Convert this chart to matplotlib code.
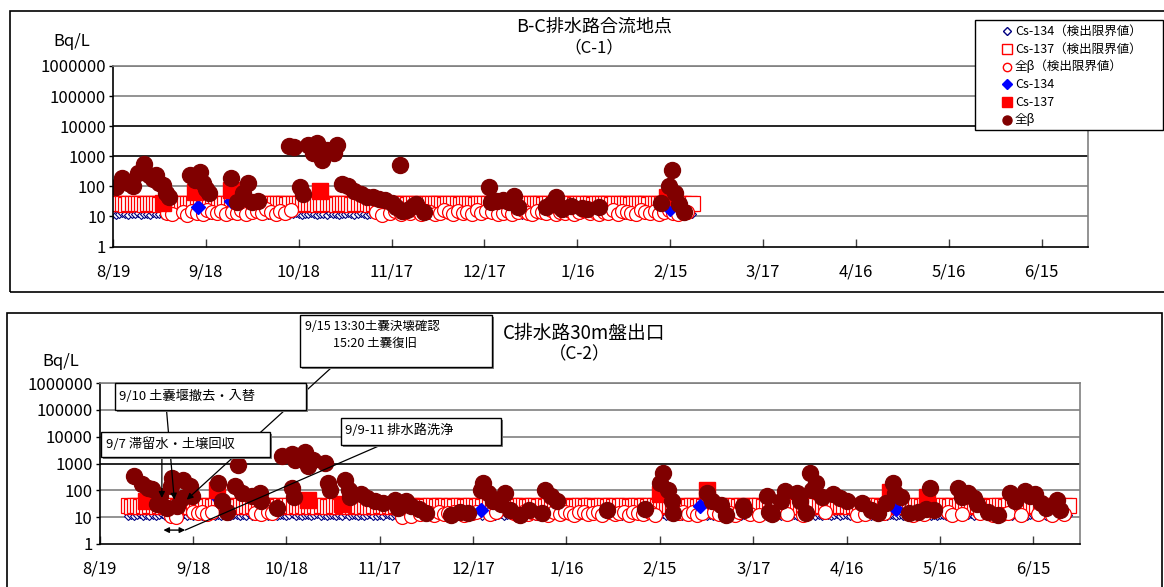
import numpy as np
import matplotlib
matplotlib.use("Agg")
import matplotlib.pyplot as plt
from matplotlib.patches import Rectangle, ConnectionPatch
from matplotlib.lines import Line2D

plt.rcParams['font.family'] = ['Noto Sans CJK JP', 'DejaVu Sans']

# ---------------- data ----------------
# x axis: days since 8/19 (2013)
tick_days = [0, 30, 60, 90, 120, 150, 180, 210, 240, 270, 300]
tick_labels = ['8/19', '9/18', '10/18', '11/17', '12/17', '1/16', '2/15',
               '3/17', '4/16', '5/16', '6/15']
y_ticks = [1, 10, 100, 1000, 10000, 100000, 1000000]
y_labels = ['1', '10', '100', '1000', '10000', '100000', '1000000']

# --- C-1 (B-C排水路合流地点) ---
c1_first_day = 0  # daily Cs detection limits start here
c1_cs137_dl = [
    28, 27, 29, 28, 26, 28, 27, 29, 28, 27, 26, 28, 29, 27, 28, 26, 27, 29, 28, 27,
    27, 28, 26, 29, 28, 27, 28, 26, 27, 29, 28, 28, 27, 26, 29, 27, 28, 27, 26, 28,
    29, 27, 28, 26, 28, 27, 29, 28, 27, 28, 26, 27, 28, 29, 27, 28, 26, 28, 27, 29,
    28, 26, 27, 29, 28, 27, 26, 28, 29, 27, 28, 27, 26, 28, 27, 29, 28, 26, 27, 28,
    27, 29, 28, 26, 27, 28, 29, 27, 28, 26, 28, 27, 29, 28, 27, 26, 28, 29, 27, 28,
    26, 28, 27, 29, 28, 27, 28, 26, 29, 27, 28, 27, 26, 28, 29, 27, 28, 26, 27, 28,
    28, 27, 26, 28, 29, 27, 28, 27, 26, 29, 28, 27, 28, 26, 27, 29, 28, 27, 28, 26,
    27, 28, 29, 27, 26, 28, 27, 28, 29, 26, 27, 28, 27, 29, 28, 26, 28, 27, 29, 27,
    28, 26, 27, 28, 29, 27, 28, 26, 27, 28, 29, 28, 27, 26, 28, 27, 29, 28, 27, 26,
    27, 28, 29, 27, 28, 26, 27, 28]
c1_cs134_dl = [
    12, 11, 12, 13, 12, 11, 12, 12, 13, 11, 12, 12, 11, 13, 12, 12, 11, 12, 13, 12,
    11, 12, 13, 12, 11, 12, 12, 11, 13, 12, 12, 11, 12, 12, 13, 11, 12, 12, 11, 12,
    12, 13, 11, 12, 12, 11, 12, 13, 12, 12, 11, 12, 12, 13, 11, 12, 12, 11, 12, 13,
    12, 11, 12, 12, 13, 12, 11, 12, 12, 11, 13, 12, 12, 11, 12, 12, 13, 12, 11, 12,
    13, 12, 11, 12, 12, 11, 12, 13, 12, 11, 12, 12, 13, 11, 12, 12, 11, 12, 13, 12,
    12, 11, 12, 13, 12, 12, 11, 12, 12, 13, 11, 12, 12, 11, 12, 13, 12, 12, 11, 12,
    11, 12, 12, 13, 12, 11, 12, 12, 11, 13, 12, 12, 11, 12, 12, 13, 12, 11, 12, 12,
    12, 13, 12, 11, 12, 12, 11, 12, 13, 12, 12, 11, 12, 12, 13, 11, 12, 12, 11, 12,
    13, 12, 11, 12, 12, 11, 12, 13, 12, 12, 11, 12, 12, 13, 12, 11, 12, 12, 11, 12,
    12, 11, 12, 13, 12, 11, 12, 12]
c1_beta_dl_days = [
    17.5, 19, 22.5, 24, 25.5, 27, 29, 30.5, 32, 33.5,
    35, 36.5, 38.5, 40, 41.5, 43, 45, 46.5, 48, 49.5,
    51, 52.5, 54, 55.5, 57.5, 85, 87, 89.5, 91, 93,
    94.5, 96, 98, 99.5, 101, 102.5, 104, 105.5, 107, 108.5,
    110, 111.5, 113, 114.5, 116, 117.5, 119, 120.5, 122.5, 124.5,
    126, 127.5, 129, 131, 132.5, 134, 135.5, 137, 138.5, 140,
    141.5, 143, 144.5, 146, 147.5, 149, 150.5, 152, 154, 155.5,
    157, 158.5, 160, 161.5, 163, 164.5, 166, 167.5, 169, 170.5,
    172, 173.5, 175, 176.5, 178, 179.5, 181, 182.5, 184, 185.5]
c1_beta_dl = [
    13, 12, 14, 11, 15, 13, 12, 16, 14, 13,
    15, 12, 14, 13, 16, 12, 14, 15, 13, 17,
    14, 12, 15, 13, 16, 14, 11, 13, 15, 12,
    14, 13, 16, 12, 15, 14, 12, 13, 16, 14,
    12, 15, 13, 14, 12, 16, 13, 15, 14, 12,
    13, 15, 12, 14, 16, 13, 12, 15, 14, 13,
    16, 12, 14, 13, 15, 12, 14, 16, 13, 15,
    12, 14, 13, 16, 12, 15, 14, 13, 12, 16,
    14, 13, 15, 12, 14, 16, 13, 12, 15, 14]
c1_cs134_days = [27.5, 38, 180]
c1_cs134 = [20, 33, 18]
c1_cs137_days = [16, 26.5, 38, 67, 179]
c1_cs137 = [28, 65, 75, 70, 45]
c1_beta_days = [
    1, 3, 5, 6.5, 8, 10, 11.5, 13, 14, 15,
    16, 17, 18, 25, 26.5, 28, 29, 30, 31, 38,
    40, 42, 43.5, 45, 47, 57, 58.5, 60.5, 61.5, 63,
    64.5, 66, 67.5, 69, 71.5, 72.5, 74, 76, 78, 80,
    82, 84, 86, 88, 90, 91.5, 92.6, 93.5, 95, 97,
    98, 100.5, 121.5, 122, 124, 126, 128, 129.7, 131, 140,
    141.5, 143, 144, 145, 148, 151.5, 153, 157, 177, 179.5,
    180.5, 181.5, 183, 184.5]
c1_beta = [
    95, 190, 130, 100, 280, 550, 230, 180, 240, 130,
    110, 60, 45, 230, 160, 290, 130, 80, 60, 190,
    30, 60, 130, 30, 33, 2200, 2000, 95, 55, 2400,
    1300, 2800, 750, 1600, 1300, 2400, 120, 105, 70, 55,
    45, 45, 38, 35, 28, 20, 500, 15, 16, 22,
    26, 14, 95, 30, 32, 35, 30, 48, 20, 20,
    26, 45, 22, 18, 22, 19, 17, 20, 28, 100,
    350, 60, 25, 14]

# --- C-2 (C排水路30m盤出口) ---
c2_first_day = 9
c2_cs137_dl = [
    28, 27, 29, 28, 27, 28, 26, 28, 29, 27, 28, 27, 29, 28, 26, 28, 27, 29, 28, 27,
    27, 28, 26, 29, 28, 27, 28, 27, 29, 28, 26, 28, 27, 28, 29, 27, 28, 26, 28, 27,
    29, 28, 27, 26, 28, 29, 27, 28, 27, 28, 26, 29, 28, 27, 28, 27, 29, 26, 28, 27,
    28, 27, 29, 28, 26, 27, 28, 29, 27, 28, 28, 26, 27, 29, 28, 27, 28, 27, 26, 29,
    27, 28, 28, 26, 29, 27, 28, 27, 28, 29, 26, 28, 27, 28, 29, 27, 26, 28, 28, 27,
    29, 27, 28, 26, 28, 27, 29, 28, 27, 26, 28, 29, 27, 28, 27, 28, 26, 29, 28, 27,
    28, 26, 27, 29, 28, 27, 28, 28, 26, 27, 29, 28, 27, 28, 26, 29, 27, 28, 28, 27,
    27, 29, 28, 26, 27, 28, 29, 27, 28, 28, 27, 26, 29, 28, 27, 28, 27, 29, 26, 28,
    28, 27, 26, 29, 28, 27, 28, 27, 29, 28, 26, 27, 28, 29, 28, 27, 26, 28, 27, 29,
    26, 28, 29, 27, 28, 27, 28, 26, 27, 29, 28, 28, 27, 26, 28, 29, 27, 28, 27, 28,
    29, 27, 28, 28, 26, 27, 29, 28, 27, 28, 26, 28, 29, 27, 28, 27, 26, 29, 28, 27,
    27, 28, 26, 28, 29, 27, 28, 27, 26, 28, 29, 28, 27, 28, 26, 27, 29, 28, 27, 28,
    28, 29, 27, 26, 28, 27, 28, 29, 27, 28, 26, 28, 27, 29, 28, 27, 28, 26, 29, 27,
    27, 28, 28, 29, 26, 28, 27, 28, 27, 29, 28, 26, 27, 28, 29, 27, 28, 27, 26, 28,
    29, 28, 27, 28, 26, 29, 27, 28, 28, 27, 26, 28, 29, 27, 28, 27, 28, 26, 29, 28,
    27, 28, 29]
c2_cs134_dl = [
    11, 12, 11, 12, 13, 11, 12, 11, 12, 11, 12, 13, 11, 12, 11, 12, 12, 11, 13, 11,
    12, 11, 12, 12, 11, 13, 11, 12, 11, 12, 11, 12, 13, 11, 12, 12, 11, 12, 11, 13,
    11, 12, 12, 11, 12, 11, 13, 12, 11, 12, 12, 11, 12, 13, 11, 12, 11, 12, 12, 11,
    12, 13, 11, 12, 11, 12, 12, 11, 12, 11, 13, 11, 12, 12, 11, 12, 11, 12, 13, 11,
    11, 12, 11, 13, 12, 11, 12, 12, 11, 12, 11, 13, 12, 11, 12, 11, 12, 12, 11, 13,
    12, 11, 12, 11, 12, 13, 11, 12, 12, 11, 12, 11, 12, 13, 11, 12, 11, 12, 11, 12,
    13, 11, 12, 12, 11, 12, 11, 13, 11, 12, 12, 11, 12, 11, 12, 13, 11, 12, 11, 12,
    11, 12, 13, 11, 12, 11, 12, 12, 11, 12, 13, 11, 12, 11, 12, 12, 11, 13, 12, 11,
    12, 11, 12, 12, 13, 11, 12, 11, 12, 11, 12, 12, 13, 11, 12, 11, 12, 12, 11, 12,
    11, 13, 12, 11, 12, 12, 11, 12, 11, 13, 12, 11, 12, 11, 12, 12, 13, 11, 12, 11,
    12, 12, 11, 12, 13, 11, 12, 11, 12, 12, 11, 13, 12, 11, 12, 11, 12, 12, 11, 12,
    13, 11, 12, 11, 12, 12, 11, 12, 13, 11, 12, 12, 11, 12, 11, 13, 12, 11, 12, 11,
    12, 11, 13, 12, 11, 12, 12, 11, 12, 11, 13, 12, 11, 12, 12, 11, 12, 13, 11, 12,
    11, 12, 12, 11, 13, 12, 11, 12, 11, 12, 12, 13, 11, 12, 11, 12, 12, 11, 12, 13,
    12, 11, 12, 12, 11, 13, 12, 11, 12, 11, 12, 12, 11, 13, 12, 11, 12, 12, 11, 12,
    11, 12, 12]
c2_beta_dl_days = [
    23, 24.5, 30, 31.5, 33, 34.5, 36, 50, 52, 54,
    55.5, 97, 100, 103, 104.5, 106, 107.5, 109, 110.5, 112,
    114, 117, 119.5, 121, 125.5, 127.5, 133, 134.5, 136, 137.5,
    139, 140.5, 144, 146, 148, 149.5, 151, 152.5, 154, 155.5,
    157, 158.5, 160, 161.5, 164, 165.5, 167, 168.5, 170, 171.5,
    173, 174.5, 177, 178.5, 186, 187.5, 189, 190.5, 192, 193.5,
    197.5, 199, 202.5, 204, 205.5, 209, 212, 217, 221, 226,
    233, 243.5, 246, 252, 261.5, 265, 272.5, 274, 277, 283,
    287, 290, 292, 296, 301.5, 306, 310]
c2_beta_dl = [
    11, 10, 15, 14, 16, 13, 15, 14, 13, 15,
    14, 10, 11, 13, 15, 14, 12, 16, 13, 14,
    15, 12, 14, 16, 13, 15, 14, 12, 16, 13,
    15, 14, 12, 16, 13, 15, 14, 12, 16, 15,
    13, 14, 16, 12, 15, 13, 14, 16, 12, 15,
    14, 13, 15, 12, 14, 16, 13, 15, 12, 14,
    16, 13, 14, 12, 15, 13, 12, 14, 13, 12,
    15, 12, 13, 14, 12, 13, 15, 12, 13, 14,
    12, 13, 14, 12, 13, 12, 13]
c2_cs134_days = [38, 122.7, 193, 256]
c2_cs134 = [50, 18, 25, 20]
c2_cs137_days = [15, 37.6, 67, 78, 180, 195, 253.9, 266]
c2_cs137 = [40, 100, 45, 30, 75, 100, 90, 55]
c2_beta_days = [
    11, 13.5, 15.5, 16.7, 18.3, 19.4, 21.6, 23, 23.2, 24.8,
    26.4, 26.9, 29, 29.6, 38, 39.2, 40.8, 43.5, 44.6, 45.6,
    48.9, 51.5, 51.7, 56.9, 58.5, 61.7, 61.9, 62.5, 62.8, 66,
    67, 68.7, 72.4, 73.5, 74, 78.8, 80, 80.5, 84, 86,
    88.5, 91, 95, 96, 98.6, 100, 102.7, 105, 113, 115.8,
    118.5, 122.4, 123.3, 124.9, 126.4, 129, 130.2, 131.8, 135, 138,
    142, 143, 145, 147, 163, 175.2, 180, 181, 182.7, 184,
    184.3, 195, 196.7, 199.5, 201.4, 206.8, 207, 214.3, 215, 216,
    219, 220.2, 224, 225, 227, 228.2, 229, 230.3, 232, 235.7,
    238, 240, 244.8, 248, 250, 252.8, 255, 255.5, 257.6, 260,
    263, 265.6, 266.7, 268, 275.8, 277, 279, 281, 282, 285.5,
    288.7, 292.4, 294, 297.3, 299, 300.5, 302.6, 304, 307.5, 308.6]
c2_beta = [
    340, 165, 120, 110, 30, 60, 22, 150, 290, 25,
    52, 250, 140, 60, 190, 39, 16, 140, 900, 80,
    60, 80, 40, 22, 1900, 2200, 120, 55, 1300, 2800,
    800, 1400, 1050, 190, 100, 250, 105, 55, 70, 50,
    39, 35, 45, 22, 40, 25, 20, 14, 12.5, 16,
    14, 100, 190, 80, 40, 32, 80, 18, 12, 18,
    14, 100, 60, 40, 18, 21, 190, 450, 105, 40,
    14, 80, 40, 28, 12, 25, 19, 60, 16, 13,
    40, 92, 80, 40, 14, 450, 100, 190, 55, 70,
    50, 40, 34, 19, 14, 35, 190, 80, 55, 14,
    16, 21, 120, 19, 120, 55, 80, 50, 30, 16,
    12, 80, 40, 92, 60, 70, 34, 22, 45, 19]

legend_labels = ['Cs-134（検出限界値）', 'Cs-137（検出限界値）', '全β（検出限界値）',
                 'Cs-134', 'Cs-137', '全β']

# ---------------- figure ----------------
W, H = 1164, 587
fig = plt.figure(figsize=(W / 100, H / 100), dpi=100)


def fx(x):
    return x / W


def fy(y):
    return 1 - y / H


def draw_panel(ax, first_day, cs137_dl, cs134_dl, bdl_days, bdl, c134_days, c134,
               c137_days, c137, b_days, b, black_lines):
    ax.set_yscale('log')
    ax.set_ylim(1, 1e6)
    ax.set_xlim(0, 315)
    for v in y_ticks[1:]:
        col = 'black' if v in black_lines else '#808080'
        ax.axhline(v, color=col, lw=1.2, zorder=0.5)

    dl_days137 = first_day + np.arange(len(cs137_dl))
    dl_days134 = first_day + np.arange(len(cs134_dl))
    ax.plot(dl_days134, cs134_dl, ls='none', marker='D', ms=3.8, mfc='white',
            mec='#000080', mew=0.8, zorder=2)
    ax.plot(dl_days137, cs137_dl, ls='none', marker='s', ms=10.8, mfc='white',
            mec='red', mew=0.9, zorder=2.1)
    ax.plot(bdl_days, bdl, ls='none', marker='o', ms=10, mfc='white',
            mec='red', mew=0.9, zorder=2.2)
    ax.plot(c134_days, c134, ls='none', marker='D', ms=7.5, color='blue', zorder=2.3)
    ax.plot(c137_days, c137, ls='none', marker='s', ms=11.5, color='red', zorder=2.4)
    ax.plot(b_days, b, ls='none', marker='o', ms=11.5, color='#800000', zorder=2.5)

    ax.set_xticks(tick_days)
    ax.set_xticklabels(tick_labels)
    ax.set_yticks(y_ticks)
    ax.set_yticklabels(y_labels)
    ax.yaxis.set_minor_locator(matplotlib.ticker.NullLocator())
    ax.tick_params(axis='x', direction='in', length=6, width=1, pad=12,
                   labelsize=12, color='#404040')
    ax.tick_params(axis='y', direction='out', length=3, width=1, pad=2,
                   labelsize=12)
    ax.spines['left'].set_color('black')
    ax.spines['bottom'].set_color('black')
    ax.spines['top'].set_color('#808080')
    ax.spines['right'].set_color('#808080')
    for s in ax.spines.values():
        s.set_linewidth(1.2)


ax1 = fig.add_axes([fx(113), fy(246.5), (1088 - 113) / W, (246.5 - 66) / H])
draw_panel(ax1, c1_first_day, c1_cs137_dl, c1_cs134_dl, c1_beta_dl_days, c1_beta_dl,
           c1_cs134_days, c1_cs134, c1_cs137_days, c1_cs137, c1_beta_days, c1_beta,
           black_lines=(1000, 10000))

ax2 = fig.add_axes([fx(99.6), fy(544), (1080 - 99.6) / W, (544 - 383) / H])
draw_panel(ax2, c2_first_day, c2_cs137_dl, c2_cs134_dl, c2_beta_dl_days, c2_beta_dl,
           c2_cs134_days, c2_cs134, c2_cs137_days, c2_cs137, c2_beta_days, c2_beta,
           black_lines=(1000,))

# outer frames of the two charts
fig.add_artist(Rectangle((fx(10), fy(292)), fx(1180) - fx(10), fy(11) - fy(292),
                         transform=fig.transFigure, fill=False, ec='black', lw=1.2,
                         zorder=1))
fig.add_artist(Rectangle((fx(7), fy(620)), fx(1162) - fx(7), fy(313) - fy(620),
                         transform=fig.transFigure, fill=False, ec='black', lw=1.2,
                         zorder=1))

# titles and units
fig.text(fx(594), fy(27), 'B-C排水路合流地点', ha='center', va='center', fontsize=13)
fig.text(fx(594), fy(48), '（C-1）', ha='center', va='center', fontsize=12)
fig.text(fx(584), fy(333), 'C排水路30m盤出口', ha='center', va='center', fontsize=13.5)
fig.text(fx(580), fy(354), '（C-2）', ha='center', va='center', fontsize=12.5)
fig.text(fx(72), fy(42), 'Bq/L', ha='center', va='center', fontsize=12)
fig.text(fx(61), fy(361), 'Bq/L', ha='center', va='center', fontsize=12)

# legend (top chart)
fig.add_artist(Rectangle((fx(975), fy(130)), fx(1163) - fx(975), fy(20) - fy(130),
                         transform=fig.transFigure, fc='white', ec='black', lw=1,
                         zorder=3))
leg_styles = [
    dict(marker='D', ms=4.5, mfc='white', mec='#000080', mew=1.0),
    dict(marker='s', ms=6.5, mfc='white', mec='red', mew=1.0),
    dict(marker='o', ms=6.0, mfc='white', mec='red', mew=1.0),
    dict(marker='D', ms=5.0, mfc='blue', mec='blue'),
    dict(marker='s', ms=6.5, mfc='red', mec='red'),
    dict(marker='o', ms=6.5, mfc='#800000', mec='#800000'),
]
for i, (lab, st) in enumerate(zip(legend_labels, leg_styles)):
    yy = 31 + i * 17.8
    fig.add_artist(Line2D([fx(1007)], [fy(yy)], transform=fig.transFigure,
                          ls='none', zorder=4, **st))
    fig.text(fx(1015), fy(yy), lab, ha='left', va='center', fontsize=9, zorder=4)

# annotations (bottom chart)
arrow_kw = dict(arrowstyle='-|>', mutation_scale=9, lw=0.9, color='black',
                shrinkA=0, shrinkB=0, zorder=2)
fig.add_artist(ConnectionPatch((fx(331), fy(368)), (28, 45), 'figure fraction',
                               ax2.transData, **arrow_kw))
fig.add_artist(ConnectionPatch((fx(166.5), fy(410)), (24, 45), 'figure fraction',
                               ax2.transData, **arrow_kw))
fig.add_artist(ConnectionPatch((fx(161.9), fy(457)), (20, 52), 'figure fraction',
                               ax2.transData, **arrow_kw))
fig.add_artist(ConnectionPatch((fx(381), fy(445)), (27.5, 3.3), 'figure fraction',
                               ax2.transData, arrowstyle='-', lw=0.9, color='black',
                               zorder=2))
fig.add_artist(ConnectionPatch((20.5, 3.3), (27.5, 3.3), ax2.transData, ax2.transData,
                               arrowstyle='<|-|>', mutation_scale=8, lw=1.0,
                               color='black', shrinkA=0, shrinkB=0, zorder=2))

boxes = [
    (300, 315, 492, 367),
    (115, 383, 306, 410),
    (101, 432, 270, 457),
    (341, 418, 501, 445),
]
for x0, y0, x1, y1 in boxes:
    fig.add_artist(Rectangle((fx(x0 + 2), fy(y1 + 2)), fx(x1) - fx(x0), fy(y0) - fy(y1),
                             transform=fig.transFigure, fc='#808080', ec='none',
                             zorder=2.9))
    fig.add_artist(Rectangle((fx(x0), fy(y1)), fx(x1) - fx(x0), fy(y0) - fy(y1),
                             transform=fig.transFigure, fc='white', ec='black',
                             lw=1, zorder=3))

fig.text(fx(305), fy(326), '9/15 13:30土嚢決壊確認', ha='left', va='center',
         fontsize=9, zorder=4)
fig.text(fx(333), fy(344), '15:20 土嚢復旧', ha='left', va='center',
         fontsize=9, zorder=4)
fig.text(fx(119), fy(396), '9/10 土嚢堰撤去・入替', ha='left', va='center',
         fontsize=9.5, zorder=4)
fig.text(fx(106), fy(444), '9/7 滞留水・土壌回収', ha='left', va='center',
         fontsize=9.5, zorder=4)
fig.text(fx(345), fy(430), '9/9-11 排水路洗浄', ha='left', va='center',
         fontsize=9.5, zorder=4)

fig.savefig('out.png', dpi=100)
